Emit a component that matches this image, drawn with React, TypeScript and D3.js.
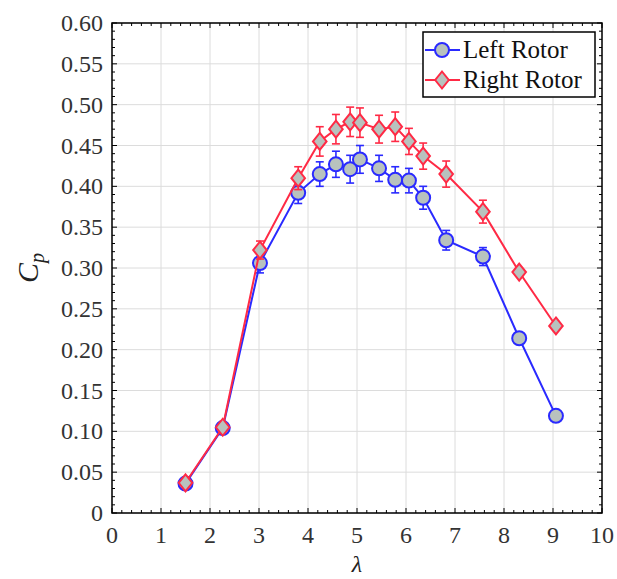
import * as d3 from 'd3';
import React from 'react';

const width = 617;
const height = 579;
const margin = { top: 23, right: 15, bottom: 66, left: 112 };
const blue = '#2a2aff';
const red = '#ff2a45';
const markerFill = '#b8c2be';

const lambdaLeft = [1.5, 2.26, 3.02, 3.8, 4.24, 4.57, 4.86, 5.06, 5.45, 5.78, 6.06, 6.35, 6.82, 7.57, 8.31, 9.06];
const cpLeft = [0.036, 0.104, 0.306, 0.392, 0.415, 0.427, 0.421, 0.433, 0.422, 0.408, 0.407, 0.386, 0.334, 0.314, 0.214, 0.119];
const errLeft = [0, 0, 0.012, 0.013, 0.015, 0.016, 0.017, 0.017, 0.016, 0.016, 0.015, 0.014, 0.012, 0.011, 0, 0];

const lambdaRight = [1.5, 2.26, 3.02, 3.8, 4.24, 4.57, 4.86, 5.06, 5.45, 5.78, 6.06, 6.35, 6.82, 7.57, 8.31, 9.06];
const cpRight = [0.037, 0.105, 0.322, 0.41, 0.455, 0.47, 0.479, 0.478, 0.47, 0.473, 0.455, 0.437, 0.415, 0.369, 0.295, 0.229];
const errRight = [0, 0, 0.011, 0.014, 0.018, 0.018, 0.018, 0.018, 0.017, 0.018, 0.016, 0.016, 0.016, 0.014, 0, 0];

const xTicks = [0, 1, 2, 3, 4, 5, 6, 7, 8, 9, 10];
const yTicks = [0, 0.05, 0.1, 0.15, 0.2, 0.25, 0.3, 0.35, 0.4, 0.45, 0.5, 0.55, 0.6];

const font = "'Liberation Serif', 'DejaVu Serif', serif";

const x = d3.scaleLinear().domain([0, 10]).range([margin.left, width - margin.right]);
const y = d3.scaleLinear().domain([0, 0.6]).range([height - margin.bottom, margin.top]);

const line = d3.line<[number, number]>().x(d => x(d[0])).y(d => y(d[1]));

function diamond(cx: number, cy: number, r: number) {
  return `M${cx},${cy - r}L${cx + r * 0.8},${cy}L${cx},${cy + r}L${cx - r * 0.8},${cy}Z`;
}

function Series({ xs, ys, errs, color, shape }: { xs: number[]; ys: number[]; errs: number[]; color: string; shape: 'circle' | 'diamond' }) {
  const pts = xs.map((v, i) => [v, ys[i]] as [number, number]);
  return (
    <g>
      <path d={line(pts) || ''} fill="none" stroke={color} strokeWidth={2} />
      {pts.map((p, i) => {
        const e = errs[i];
        if (!e) return null;
        const cx = x(p[0]);
        return (
          <g key={'e' + i} stroke={color} strokeWidth={1.6}>
            <line x1={cx} x2={cx} y1={y(p[1] - e)} y2={y(p[1] + e)} />
            <line x1={cx - 4} x2={cx + 4} y1={y(p[1] - e)} y2={y(p[1] - e)} />
            <line x1={cx - 4} x2={cx + 4} y1={y(p[1] + e)} y2={y(p[1] + e)} />
          </g>
        );
      })}
      {pts.map((p, i) =>
        shape === 'circle' ? (
          <circle key={i} cx={x(p[0])} cy={y(p[1])} r={7} fill={markerFill} stroke={color} strokeWidth={2} />
        ) : (
          <path key={i} d={diamond(x(p[0]), y(p[1]), 8.5)} fill={markerFill} stroke={color} strokeWidth={2} />
        )
      )}
    </g>
  );
}

export default function App() {
  const [x0, x1] = x.range();
  const [y0, y1] = y.range();
  const xMinor = d3.range(0, 10.001, 0.2);
  const yMinor = d3.range(0, 0.6001, 0.01);

  return (
    <svg width={width} height={height} style={{ position: 'absolute', left: 0, top: 0, fontFamily: font }}>
      <rect width={width} height={height} fill="#fff" />
      {/* grid */}
      <g stroke="#dcdcdc" strokeWidth={1}>
        {xTicks.map(t => (
          <line key={'gx' + t} x1={x(t)} x2={x(t)} y1={y1} y2={y0} />
        ))}
        {yTicks.map(t => (
          <line key={'gy' + t} x1={x0} x2={x1} y1={y(t)} y2={y(t)} />
        ))}
      </g>
      {/* minor and major ticks, inward, on all four sides */}
      <g stroke="#000" strokeWidth={1}>
        {xMinor.map((t, i) => {
          const len = i % 5 === 0 ? 5 : 3;
          return (
            <g key={'tx' + i}>
              <line x1={x(t)} x2={x(t)} y1={y0} y2={y0 - len} />
              <line x1={x(t)} x2={x(t)} y1={y1} y2={y1 + len} />
            </g>
          );
        })}
        {yMinor.map((t, i) => {
          const len = i % 5 === 0 ? 5 : 3;
          return (
            <g key={'ty' + i}>
              <line x1={x0} x2={x0 + len} y1={y(t)} y2={y(t)} />
              <line x1={x1} x2={x1 - len} y1={y(t)} y2={y(t)} />
            </g>
          );
        })}
      </g>
      <rect x={x0} y={y1} width={x1 - x0} height={y0 - y1} fill="none" stroke="#000" strokeWidth={1.5} />

      <Series xs={lambdaLeft} ys={cpLeft} errs={errLeft} color={blue} shape="circle" />
      <Series xs={lambdaRight} ys={cpRight} errs={errRight} color={red} shape="diamond" />

      {/* tick labels */}
      <g fontSize={24} fill="#333">
        {xTicks.map(t => (
          <text key={'lx' + t} x={x(t)} y={y0 + 30} textAnchor="middle">
            {d3.format('d')(t)}
          </text>
        ))}
        {yTicks.map(t => (
          <text key={'ly' + t} x={x0 - 9} y={y(t) + 8} textAnchor="end">
            {t === 0 ? '0' : d3.format('.2f')(t)}
          </text>
        ))}
      </g>

      {/* axis titles */}
      <text x={357} y={y0 + 59} fontSize={24} fontStyle="italic" textAnchor="middle" fill="#222">
        λ
      </text>
      <text transform={`translate(38, 268) rotate(-90)`} fontSize={30} fontStyle="italic" textAnchor="middle" fill="#222">
        C
        <tspan fontSize={20} dy={6}>
          p
        </tspan>
      </text>

      {/* legend */}
      <g>
        <rect x={423} y={32} width={172} height={65} fill="#fff" stroke="#000" strokeWidth={1.5} />
        <line x1={425} x2={460} y1={50} y2={50} stroke={blue} strokeWidth={2} />
        <circle cx={442} cy={50} r={7} fill={markerFill} stroke={blue} strokeWidth={2} />
        <text x={463} y={58} fontSize={25} fill="#111">
          Left Rotor
        </text>
        <line x1={425} x2={460} y1={80} y2={80} stroke={red} strokeWidth={2} />
        <path d={diamond(442, 80, 8.5)} fill={markerFill} stroke={red} strokeWidth={2} />
        <text x={463} y={88} fontSize={25} fill="#111">
          Right Rotor
        </text>
      </g>
    </svg>
  );
}
